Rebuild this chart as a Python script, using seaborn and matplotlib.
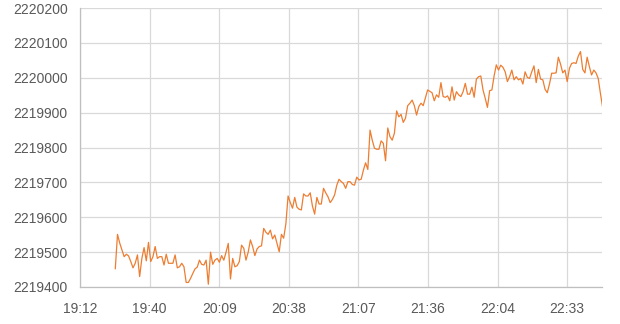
import matplotlib
matplotlib.use("Agg")
import matplotlib.pyplot as plt
import seaborn as sns
import pandas as pd

# ---- data ----
start_time = "2020-01-01 19:26:36"
sample_step = "55s"
values = [
    2219452, 2219551, 2219526, 2219506, 2219487, 2219494, 2219489, 2219473, 2219455, 2219468,
    2219492, 2219430, 2219482, 2219513, 2219475, 2219528, 2219473, 2219487, 2219516, 2219482,
    2219487, 2219487, 2219463, 2219494, 2219468, 2219468, 2219468, 2219492, 2219455, 2219458,
    2219468, 2219458, 2219413, 2219413, 2219425, 2219439, 2219452, 2219457, 2219477, 2219465,
    2219463, 2219477, 2219408, 2219500, 2219465, 2219477, 2219482, 2219471, 2219490, 2219477,
    2219500, 2219525, 2219423, 2219482, 2219458, 2219461, 2219473, 2219520, 2219511, 2219477,
    2219500, 2219535, 2219516, 2219490, 2219509, 2219516, 2219518, 2219568, 2219557, 2219551,
    2219563, 2219538, 2219549, 2219525, 2219501, 2219551, 2219540, 2219581, 2219661, 2219642,
    2219626, 2219657, 2219629, 2219623, 2219621, 2219667, 2219661, 2219661, 2219670, 2219632,
    2219609, 2219657, 2219638, 2219638, 2219683, 2219670, 2219659, 2219642, 2219651, 2219664,
    2219692, 2219709, 2219702, 2219697, 2219683, 2219702, 2219702, 2219694, 2219692, 2219715,
    2219707, 2219709, 2219735, 2219756, 2219737, 2219850, 2219821, 2219798, 2219795, 2219795,
    2219819, 2219812, 2219762, 2219856, 2219831, 2219821, 2219841, 2219905, 2219888, 2219895,
    2219872, 2219884, 2219920, 2219927, 2219936, 2219920, 2219893, 2219917, 2219927, 2219920,
    2219943, 2219965, 2219961, 2219957, 2219934, 2219951, 2219944, 2219986, 2219946, 2219944,
    2219948, 2219934, 2219974, 2219936, 2219960, 2219951, 2219946, 2219960, 2219984, 2219953,
    2219953, 2219973, 2219944, 2219996, 2220003, 2220005, 2219965, 2219941, 2219915, 2219963,
    2219965, 2220005, 2220037, 2220022, 2220036, 2220030, 2220017, 2219989, 2220003, 2220022,
    2219994, 2220003, 2219994, 2219998, 2219982, 2220017, 2220001, 2219998, 2220017, 2220034,
    2219986, 2220024, 2219996, 2219994, 2219967, 2219957, 2219982, 2220013, 2220013, 2220014,
    2220059, 2220039, 2220014, 2220022, 2219989, 2220027, 2220041, 2220043, 2220041, 2220062,
    2220075, 2220024, 2220014, 2220059, 2220032, 2220008, 2220022, 2220014, 2219998, 2219955,
    2219915,
]
x_tick_times = ["19:12:00", "19:40:48", "20:09:36", "20:38:24",
                "21:07:12", "21:36:00", "22:04:48", "22:33:36"]
x_tick_labels = ["19:12", "19:40", "20:09", "20:38", "21:07", "21:36", "22:04", "22:33"]
y_ticks = [2219400, 2219500, 2219600, 2219700, 2219800, 2219900, 2220000, 2220100, 2220200]
x_limits = ["19:12:00", "22:48:00"]

times = pd.date_range(start=start_time, periods=len(values), freq=sample_step)
df = pd.DataFrame({"time": times, "value": values})

sns.set_theme(style="white")
plt.rcParams["font.family"] = ["Liberation Sans", "DejaVu Sans"]

fig = plt.figure(figsize=(6.2, 3.24), dpi=100)
ax = fig.add_axes([80 / 620, 1 - 287 / 324, (602 - 80) / 620, (287 - 8) / 324])

sns.lineplot(data=df, x="time", y="value", ax=ax, color="#ED7D31", linewidth=0.9)

day = "2020-01-01 "
ax.set_xlim(pd.Timestamp(day + x_limits[0]), pd.Timestamp(day + x_limits[1]))
ax.set_xticks([pd.Timestamp(day + t) for t in x_tick_times])
ax.set_xticklabels(x_tick_labels)
ax.set_ylim(y_ticks[0], y_ticks[-1])
ax.set_yticks(y_ticks)
ax.set_yticklabels([str(v) for v in y_ticks])

ax.grid(True, color="#d9d9d9", linewidth=0.9)
ax.set_axisbelow(True)
for s in ["top", "right"]:
    ax.spines[s].set_visible(False)
for s in ["left", "bottom"]:
    ax.spines[s].set_color("#bfbfbf")
    ax.spines[s].set_linewidth(0.9)

ax.tick_params(axis="y", length=0, pad=9, labelsize=10, labelcolor="#595959")
ax.tick_params(axis="x", length=0, pad=11, labelsize=10, labelcolor="#595959")
ax.set_xlabel("")
ax.set_ylabel("")

fig.savefig("out.png", dpi=100)
